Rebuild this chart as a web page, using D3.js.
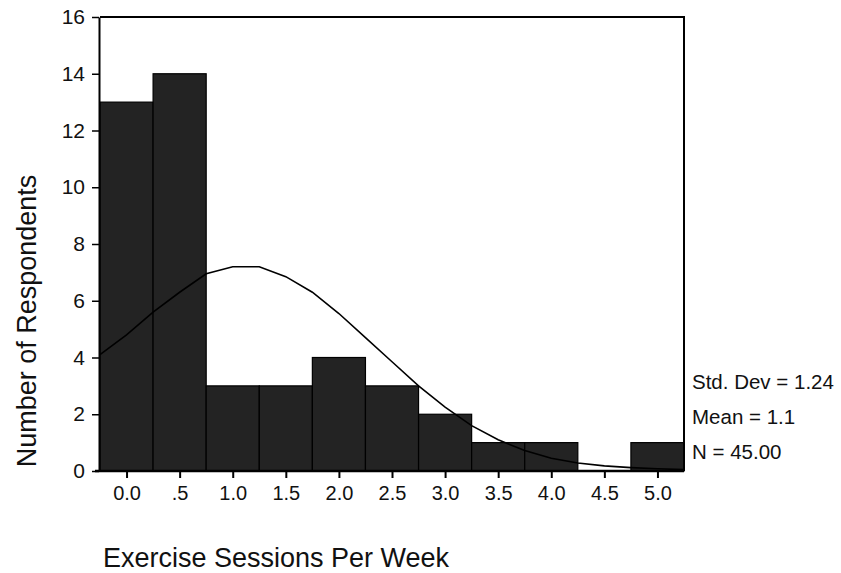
<!DOCTYPE html>
<html>
<head>
<meta charset="utf-8">
<script src="https://cdn.jsdelivr.net/npm/d3@7"></script>
<style>
  body { margin: 0; background: #fff; }
  svg text { font-family: Arial, "Liberation Sans", sans-serif; fill: #111; }
  .axis path, .axis line { stroke: #000; }
</style>
</head>
<body>
<svg id="hist"></svg>
<script>
// bins (midpoints) and counts
var binMids = [0.0, 0.5, 1.0, 1.5, 2.0, 2.5, 3.0, 3.5, 4.0, 4.5, 5.0]
var counts = [13, 14, 3, 3, 4, 3, 2, 1, 1, 0, 1]
var xTickLabels = ['0.0', '.5', '1.0', '1.5', '2.0', '2.5', '3.0', '3.5', '4.0', '4.5', '5.0']
var yTicks = [0, 2, 4, 6, 8, 10, 12, 14, 16]

// normal curve
var curveX = [-0.25, 0, 0.25, 0.5, 0.75, 1.0, 1.25, 1.5, 1.75, 2.0, 2.25, 2.5, 2.75, 3.0, 3.25, 3.5, 3.75, 4.0, 4.25, 4.5, 4.75, 5.0, 5.25]
var curveY = [4.1, 4.8, 5.6, 6.3, 6.95, 7.2, 7.2, 6.85, 6.3, 5.55, 4.7, 3.85, 3.0, 2.25, 1.6, 1.1, 0.72, 0.45, 0.28, 0.18, 0.12, 0.08, 0.05]

var statLines = ['Std. Dev = 1.24', 'Mean = 1.1', 'N = 45.00']

var outerWidth = 841, outerHeight = 573
var margins = {top: 17, right: 157, bottom: 102, left: 100}
var binWidth = 0.5

var svg = d3.select('svg#hist')
    .attr('width', outerWidth)
    .attr('height', outerHeight)

var xScale = d3.scaleLinear()
    .domain([-0.25, 5.25])
    .range([margins.left, outerWidth - margins.right])

var yScale = d3.scaleLinear()
    .domain([0, 16])
    .range([outerHeight - margins.bottom, margins.top])

var barData = binMids.map(function(d, i) { return {mid: d, count: counts[i]} })

// bars
svg.append('g')
    .selectAll('rect')
    .data(barData.filter(function(d) { return d.count > 0 }))
    .join('rect')
    .attr('x', function(d) { return xScale(d.mid - binWidth / 2) })
    .attr('width', function(d) { return xScale(d.mid + binWidth / 2) - xScale(d.mid - binWidth / 2) })
    .attr('y', function(d) { return yScale(d.count) })
    .attr('height', function(d) { return yScale(0) - yScale(d.count) })
    .style('fill', '#232323')
    .style('stroke', '#000')
    .style('stroke-width', 1.2)

// normal curve
var line = d3.line()
    .x(function(d) { return xScale(d[0]) })
    .y(function(d) { return yScale(d[1]) })

svg.append('path')
    .datum(curveX.map(function(d, i) { return [d, curveY[i]] }))
    .attr('d', line)
    .style('fill', 'none')
    .style('stroke', '#000')
    .style('stroke-width', 1.6)

// frame top + right
svg.append('path')
    .attr('d', 'M' + xScale(-0.25) + ',' + yScale(16) + 'H' + xScale(5.25) + 'V' + yScale(0))
    .style('fill', 'none')
    .style('stroke', '#000')
    .style('stroke-width', 2)

// axes
var xAxis = d3.axisBottom(xScale)
    .tickValues(binMids)
    .tickFormat(function(d, i) { return xTickLabels[i] })
    .tickSize(7)
    .tickPadding(8)
    .tickSizeOuter(0)

var yAxis = d3.axisLeft(yScale)
    .tickValues(yTicks)
    .tickSize(7)
    .tickPadding(7)
    .tickSizeOuter(0)

var gx = svg.append('g')
    .attr('class', 'x axis')
    .attr('transform', 'translate(0,' + yScale(0) + ')')
    .call(xAxis)
gx.select('.domain').attr('d', 'M' + (xScale(-0.25) - 5) + ',0H' + xScale(5.25)).style('stroke-width', 2.5)
gx.selectAll('.tick line').style('stroke-width', 2)
gx.selectAll('text').style('font-size', '20px')

var gy = svg.append('g')
    .attr('class', 'y axis')
    .attr('transform', 'translate(' + (xScale(-0.25) - 1) + ',0)')
    .call(yAxis)
gy.select('.domain').style('stroke-width', 2)
gy.selectAll('.tick line').style('stroke-width', 1.5)
gy.selectAll('text').style('font-size', '21px')

// axis titles
svg.append('text')
    .attr('x', 276)
    .attr('y', 567)
    .attr('text-anchor', 'middle')
    .style('font-size', '27px')
    .text('Exercise Sessions Per Week')

svg.append('text')
    .attr('transform', 'translate(36,321) rotate(-90)')
    .attr('text-anchor', 'middle')
    .style('font-size', '27px')
    .text('Number of Respondents')

// stats
svg.append('g')
    .selectAll('text')
    .data(statLines)
    .join('text')
    .attr('x', 692)
    .attr('y', function(d, i) { return 389 + i * 35 })
    .style('font-size', '20.5px')
    .text(function(d) { return d })
</script>
</body>
</html>
